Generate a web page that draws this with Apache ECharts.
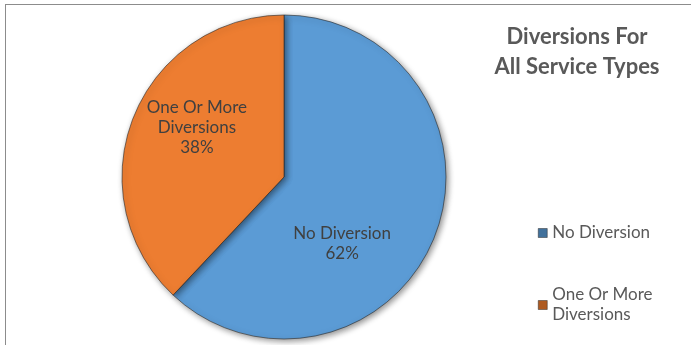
<!DOCTYPE html>
<html>
<head>
    <meta charset="utf-8">
    <title>Diversions For All Service Types</title>
    <script src="https://cdn.jsdelivr.net/npm/echarts@6/dist/echarts.min.js"></script>
    <style>
        body { margin: 0; background: #fff; }
        #main { position: absolute; left: 0; top: 0; width: 691px; height: 345px; }
        #frame { position: absolute; left: 5px; top: 4px; width: 800px; height: 500px;
                 border: 1px solid #8c8c8c; pointer-events: none; }
    </style>
</head>
<body>
    <div id="main"></div>
    <div id="frame"></div>
    <script type="text/javascript">
        // chart data
        var categories = ['No Diversion', 'One Or More Diversions'];
        var legendNames = ['No Diversion', 'One Or More\nDiversions'];
        var values = [62, 38];
        var colors = ['#5b9bd5', '#ed7d31'];
        var legendColors = ['#41719c', '#ae5a21'];
        // label nudges, Excel places them a bit off the middle
        var labelOffsets = [[-20, 36], [-9, -19]];

        var myChart = echarts.init(document.getElementById('main'));

        var pieData = [];
        for (var i = 0; i < categories.length; i++) {
            pieData.push({
                name: legendNames[i],
                value: values[i],
                itemStyle: { color: colors[i] },
                label: {
                    offset: labelOffsets[i],
                    formatter: i == 0 ? 'No Diversion\n{d}%' : 'One Or More\nDiversions\n{d}%'
                }
            });
        }

        var legendData = [];
        for (var i = 0; i < legendNames.length; i++) {
            legendData.push({
                name: legendNames[i],
                itemStyle: { color: legendColors[i], borderColor: '#2b2b2b', borderWidth: 0.5 }
            });
        }

        option = {
            animation: false,
            title: {
                text: 'Diversions For\nAll Service Types',
                left: 572,
                top: 17,
                textAlign: 'center',
                textStyle: {
                    fontFamily: 'Lato',
                    fontSize: 22,
                    fontWeight: 'bold',
                    color: '#595959',
                    lineHeight: 30
                }
            },
            legend: {
                orient: 'vertical',
                left: 533,
                top: 218,
                itemWidth: 9,
                itemHeight: 9,
                itemGap: 42,
                itemTextGap: 4,
                icon: 'rect',
                data: legendData,
                textStyle: {
                    fontFamily: 'Lato',
                    fontSize: 17,
                    color: '#595959',
                    lineHeight: 20
                }
            },
            series: [{
                type: 'pie',
                center: [284, 177],
                radius: 162,
                startAngle: 90,
                clockwise: true,
                avoidLabelOverlap: false,
                data: pieData,
                itemStyle: {
                    borderColor: 'rgba(40,40,40,0.6)',
                    borderWidth: 1,
                    shadowBlur: 6,
                    shadowOffsetX: 2,
                    shadowOffsetY: 2,
                    shadowColor: 'rgba(0,0,0,0.45)'
                },
                label: {
                    position: 'inside',
                    fontFamily: 'Lato',
                    fontSize: 17,
                    color: '#404040',
                    lineHeight: 20
                },
                labelLine: { show: false },
                emphasis: { disabled: true }
            }]
        };
        myChart.setOption(option);
    </script>
</body>
</html>
